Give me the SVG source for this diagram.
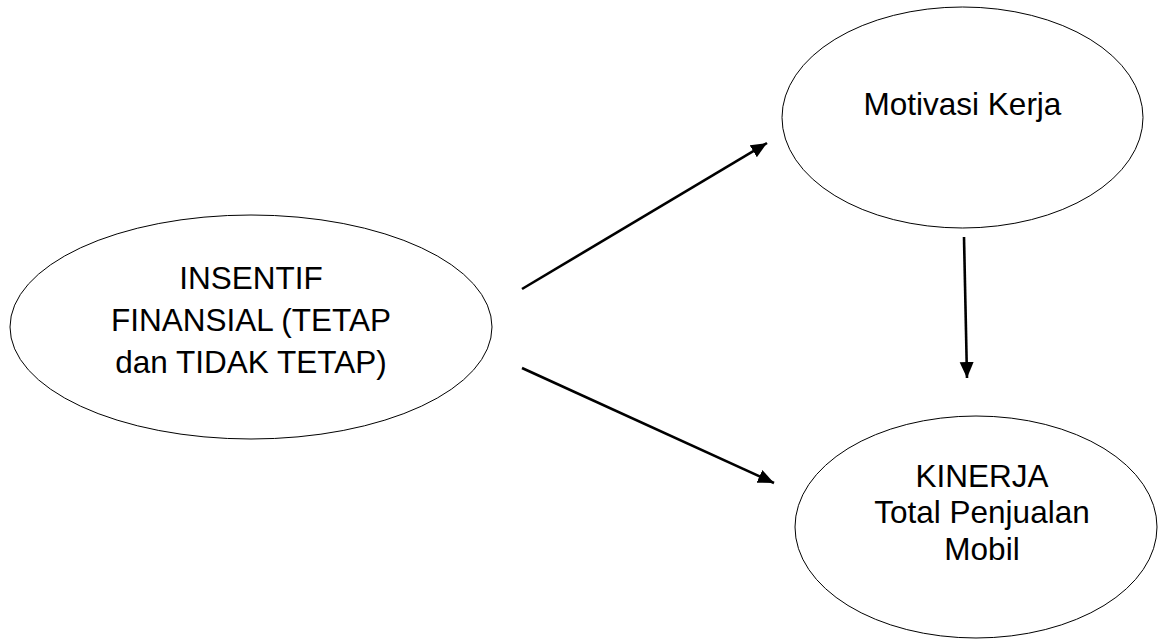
<svg xmlns="http://www.w3.org/2000/svg" width="1158" height="639" viewBox="0 0 1158 639">
<style>
.node ellipse{fill:#fff;stroke:#000;stroke-width:1}
.node text{font-family:"Liberation Sans",Arial,sans-serif;font-size:31.5px;fill:#000;text-anchor:middle}
.conn line{stroke:#000;stroke-width:2.6;fill:none}
</style>
<defs>
<marker id="ah" markerUnits="userSpaceOnUse" markerWidth="18" markerHeight="16" refX="16" refY="7" orient="auto">
<path d="M0,0 L16,7 L0,14 Z" fill="#000"/>
</marker>
</defs>
<rect width="1158" height="639" fill="#fff"/>
<g id="insentif" class="node">
<ellipse cx="251" cy="327" rx="241" ry="112"/>
<text x="251" y="289">INSENTIF</text>
<text x="251" y="331">FINANSIAL (TETAP</text>
<text x="251" y="373">dan TIDAK TETAP)</text>
</g>
<g id="motivasi" class="node">
<ellipse cx="962.5" cy="117.5" rx="180.5" ry="110.5"/>
<text x="962.5" y="115">Motivasi Kerja</text>
</g>
<g id="kinerja" class="node">
<ellipse cx="976" cy="527" rx="181" ry="111"/>
<text x="982" y="487">KINERJA</text>
<text x="982" y="523">Total Penjualan</text>
<text x="982" y="560">Mobil</text>
</g>
<g id="connectors" class="conn">
<line x1="522" y1="289" x2="767" y2="143" marker-end="url(#ah)"/>
<line x1="522" y1="368" x2="774" y2="483" marker-end="url(#ah)"/>
<line x1="964" y1="237" x2="967" y2="378" marker-end="url(#ah)"/>
</g>
</svg>
